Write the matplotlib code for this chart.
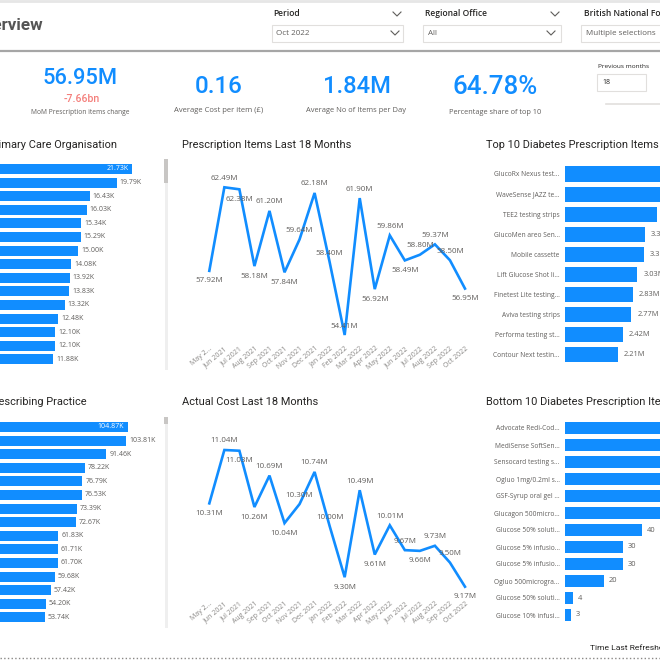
import matplotlib
matplotlib.use('Agg')
import matplotlib.pyplot as plt
from matplotlib.lines import Line2D
from matplotlib.patches import Rectangle
from matplotlib import font_manager

# ---------------- data ----------------
months = ['May 2...', 'Jun 2021', 'Jul 2021', 'Aug 2021', 'Sep 2021', 'Oct 2021',
          'Nov 2021', 'Dec 2021', 'Jan 2022', 'Feb 2022', 'Mar 2022', 'Apr 2022',
          'May 2022', 'Jun 2022', 'Jul 2022', 'Aug 2022', 'Sep 2022', 'Oct 2022']
items_m = [57.92, 62.49, 62.38, 58.18, 61.20, 57.84, 59.64, 62.18, 58.40, 54.41,
           61.90, 56.92, 59.86, 58.49, 58.80, 59.37, 58.50, 56.95]
cost_m = [10.31, 11.04, 11.03, 10.26, 10.69, 10.04, 10.30, 10.74, 10.00, 9.30,
          10.49, 9.61, 10.01, 9.67, 9.66, 9.73, 9.50, 9.17]

pco_k = [21.73, 19.79, 16.43, 16.03, 15.34, 15.29, 15.00, 14.08, 13.92, 13.83,
         13.32, 12.48, 12.10, 12.10, 11.88]
practice_k = [104.87, 103.81, 91.46, 78.22, 76.79, 76.53, 73.39, 72.67, 61.83,
              61.71, 61.70, 59.68, 57.42, 54.20, 53.74]

top10_names = ['GlucoRx Nexus test...', 'WaveSense JAZZ te...', 'TEE2 testing strips',
               'GlucoMen areo Sen...', 'Mobile cassette', 'Lift Glucose Shot li...',
               'Finetest Lite testing...', 'Aviva testing strips',
               'Performa testing st...', 'Contour Next testin...']
top10_m = [4.60, 4.25, 3.86, 3.35, 3.31, 3.03, 2.83, 2.77, 2.42, 2.21]

bottom10_names = ['Advocate Redi-Cod...', 'MediSense SoftSen...', 'Sensocard testing s...',
                  'Ogluo 1mg/0.2ml s...', 'GSF-Syrup oral gel ...', 'Glucagon 500micro...',
                  'Glucose 50% soluti...', 'Glucose 5% infusio...', 'Glucose 5% infusio...',
                  'Ogluo 500microgra...', 'Glucose 50% soluti...', 'Glucose 10% infusi...']
bottom10_vals = [90, 80, 70, 62, 56, 52, 40, 30, 30, 20, 4, 3]

kpi_values = ['56.95M', '0.16', '1.84M', '64.78%']
kpi_captions = ['MoM Prescription items change', 'Average Cost per item (£)',
                'Average No of Items per Day', 'Percentage share of top 10']
kpi_change = '-7.66bn'

# ---------------- style ----------------
W = H = 660
BLUE = '#118DFF'
GREY = '#605E5C'
DARK = '#252423'
names = {f.name for f in font_manager.fontManager.ttflist}
NARROW = 'Liberation Sans Narrow' if 'Liberation Sans Narrow' in names else 'Roboto'
BODY = 'Open Sans' if 'Open Sans' in names else 'DejaVu Sans'

fig = plt.figure(figsize=(6.6, 6.6), dpi=100)
fig.patch.set_facecolor('white')


def fx(x):
    return x / W


def fy(y):
    return 1 - y / H


def pt(px):
    return px * 72 / 100


def ax_px(x0, y0, x1, y1):
    a = fig.add_axes([fx(x0), fy(y1), (x1 - x0) / W, (y1 - y0) / H])
    a.set_facecolor('none')
    for s in a.spines.values():
        s.set_visible(False)
    return a


def T(x, y, s, size_px, color, ha='left', va='center', family=BODY, weight='normal'):
    return fig.text(fx(x), fy(y), s, fontsize=pt(size_px), color=color, ha=ha,
                    va=va, family=family, weight=weight)


def hline(x0, x1, y, color, lw, ls='-'):
    fig.add_artist(Line2D([fx(x0), fx(x1)], [fy(y), fy(y)], color=color, lw=lw, ls=ls))


def chevron(x, y, color=GREY):
    fig.add_artist(Line2D([fx(x - 4), fx(x), fx(x + 4)], [fy(y - 2), fy(y + 2), fy(y - 2)],
                          color=color, lw=0.8))


def box(x0, y0, x1, y1, ec='#E1DFDD'):
    fig.add_artist(Rectangle((fx(x0), fy(y1)), (x1 - x0) / W, (y1 - y0) / H,
                             transform=fig.transFigure, fc='white', ec=ec, lw=0.8))


fits = []

# ---------------- header ----------------
hline(0, 660, 1, '#E6E6E6', 2)
T(43, 26, 'Overview', 17, '#555555', ha='right', family=NARROW, weight='bold')
hline(0, 660, 51, '#A6A6A6', 1.6)

T(273, 14, 'Period', 8.5, DARK, family=BODY, weight='semibold')
chevron(397, 14)
box(271.5, 24.5, 403, 42)
T(276, 33.5, 'Oct 2022', 8, GREY)
chevron(395, 33)

T(425, 14, 'Regional Office', 8.5, DARK, family=BODY, weight='semibold')
chevron(555, 14)
box(423, 24.5, 561, 42)
T(428, 33.5, 'All', 8, GREY)
chevron(551, 33)

T(583.5, 14, 'British National Formulary', 8.5, DARK, family=BODY, weight='semibold')
box(581, 24.5, 700, 42)
T(586, 33.5, 'Multiple selections', 8, GREY)

T(598, 66, 'Previous months', 6.5, DARK)
box(597, 74, 646, 91)
T(602, 83, '18', 7, DARK)
hline(606, 660, 103.5, '#E1DFDD', 1.2)

# ---------------- KPIs ----------------
kpi_x = [80.5, 218.5, 356.5, 495.5]
kpi_y = [78.5, 86.5, 86.5, 87.5]
kpi_w = [75, 48, 68, 85]
cap_y = [113, 110, 111, 112]
cap_w = [98, 89, 100, 93]
for i in range(4):
    t = T(kpi_x[i], kpi_y[i], kpi_values[i], 28, BLUE, ha='center', family=NARROW,
          weight='medium')
    fits.append((t, kpi_w[i]))
    c = T(kpi_x[i], cap_y[i], kpi_captions[i], 6.5, GREY, ha='center')
    fits.append((c, cap_w[i]))
t = T(81.5, 98.5, kpi_change, 9, '#F47F7B', ha='center', family=NARROW, weight='medium')
fits.append((t, 36))

# ---------------- titles ----------------
tt = T(182, 145, 'Prescription Items Last 18 Months', 11, DARK, family=NARROW)
fits.append((tt, 169))
tt2 = T(182, 402, 'Actual Cost Last 18 Months', 11, DARK, family=NARROW)
tt3 = T(486, 145, 'Top 10 Diabetes Prescription Items', 11, DARK, family=NARROW)
tt4 = T(486.5, 402, 'Bottom 10 Diabetes Prescription Items', 11, DARK, family=NARROW)
tl1 = T(117, 145, 'Items by Primary Care Organisation', 11, DARK, ha='right', family=NARROW)
tl2 = T(86.5, 402, 'Items by Prescribing Practice', 11, DARK, ha='right', family=NARROW)
linked_titles = [tt2, tt3, tt4, tl1, tl2]


# ---------------- left bar charts ----------------
def left_bars(vals, top_center, px_per_unit):
    n = len(vals)
    sp = 13.6
    a = ax_px(-42, top_center - sp / 2, 160, top_center - sp / 2 + n * sp)
    a.barh(range(n), vals, height=0.73, color=BLUE)
    a.set_ylim(n - 0.5, -0.5)
    a.set_xlim(0, 202 / px_per_unit)
    a.set_xticks([])
    a.set_yticks([])
    vmax = max(vals)
    for i, v in enumerate(vals):
        if v == vmax:
            a.annotate(f'{v:.2f}K', (v, i), xytext=(-4, 0), textcoords='offset pixels',
                       ha='right', va='center', fontsize=pt(7), color='white', family=BODY)
        else:
            a.annotate(f'{v:.2f}K', (v, i), xytext=(3, 0), textcoords='offset pixels',
                       ha='left', va='center', fontsize=pt(7), color=GREY, family=BODY)
    return a


left_bars(pco_k, 169, 8.02)
left_bars(practice_k, 427, 1.62)

# scrollbars
for y0, y1, th in [(159, 370, 183), (417, 628, 424)]:
    fig.add_artist(Rectangle((fx(164.5), fy(y1)), 3 / W, (y1 - y0) / H,
                             transform=fig.transFigure, fc='#EFEFEF', ec='none'))
    fig.add_artist(Rectangle((fx(164), fy(th)), 4 / W, (th - y0) / H,
                             transform=fig.transFigure, fc='#C8C6C4', ec='none'))


# ---------------- line charts ----------------
def line_chart(vals, y_top_px, ref_val, ref_px, px_per_unit, bottom_px, places):
    a = ax_px(201.8, y_top_px, 472.5, bottom_px)
    x = list(range(len(vals)))
    a.plot(x, vals, color=BLUE, lw=1.9, solid_joinstyle='miter')
    a.set_xlim(-0.5, len(vals) - 0.5)
    top = ref_val + (ref_px - y_top_px) / px_per_unit
    bot = ref_val - (bottom_px - ref_px) / px_per_unit
    a.set_ylim(bot, top)
    a.set_yticks([])
    a.set_xticks(x)
    a.set_xticklabels(months, rotation=40, ha='right', va='top', rotation_mode='anchor',
                      fontsize=pt(7), color='#8A8886', family=BODY)
    a.tick_params(axis='x', length=0, pad=pt(5))
    for i, v in enumerate(vals):
        off = 9 if places[i] == 'a' else -10
        a.annotate(f'{v:.2f}M', (i, v), xytext=(0, off), textcoords='offset pixels',
                   ha='center', va='center', fontsize=pt(8), color=GREY, family=BODY)
    return a


items_place = ['b', 'a', 'b', 'b', 'a', 'b', 'a', 'a', 'a', 'a',
               'a', 'b', 'a', 'b', 'a', 'a', 'a', 'b']
cost_place = ['b', 'a', 'b', 'b', 'a', 'b', 'a', 'a', 'a', 'b',
              'a', 'b', 'a', 'a', 'b', 'a', 'a', 'b']
line_chart(items_m, 170, 62.49, 187.3, 18.28, 340, items_place)
line_chart(cost_m, 440, 11.04, 450, 73.1, 595, cost_place)


# ---------------- right bar charts ----------------
def right_bars(names_, vals, top_center, sp, px_per_unit, fmt, gap):
    n = len(vals)
    a = ax_px(565, top_center - sp / 2, 700, top_center - sp / 2 + n * sp)
    a.barh(range(n), vals, height=0.75, color=BLUE)
    a.set_ylim(n - 0.5, -0.5)
    a.set_xlim(0, 135 / px_per_unit)
    a.set_xticks([])
    a.set_yticks(range(n))
    a.set_yticklabels(names_, fontsize=pt(6.6), color=GREY, family=BODY)
    a.tick_params(axis='y', length=0, pad=pt(5.5))
    for i, v in enumerate(vals):
        a.annotate(fmt(v), (v, i), xytext=(gap, 0), textcoords='offset pixels',
                   ha='left', va='center', fontsize=pt(7.5), color=GREY, family=BODY,
                   annotation_clip=False)
    return a


right_bars(top10_names, top10_m, 174, 20.1, 23.9, lambda v: f'{v:.2f}M', 6)
right_bars(bottom10_names, bottom10_vals, 428, 17, 1.93, lambda v: f'{v:g}', 5)

# ---------------- footer ----------------
T(590, 648, 'Time Last Refreshed', 8.5, DARK, family=NARROW)
hline(0, 660, 658, '#8A8886', 1.0, ':')

# ---------------- fit text widths ----------------
fig.canvas.draw()
r = fig.canvas.get_renderer()
for t, w in fits:
    bb = t.get_window_extent(renderer=r)
    t.set_fontsize(t.get_fontsize() * w / bb.width)
title_size = tt.get_fontsize()
for t in linked_titles:
    t.set_fontsize(title_size)

fig.savefig('out.png', dpi=100, facecolor='white')
